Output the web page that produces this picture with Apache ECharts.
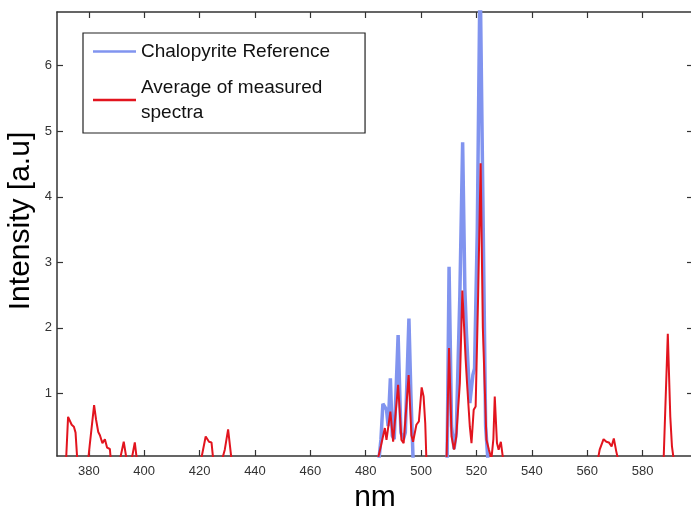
<!DOCTYPE html>
<html>
<head>
<meta charset="utf-8">
<script src="https://cdn.jsdelivr.net/npm/echarts@6/dist/echarts.min.js"></script>
<style>html,body{margin:0;padding:0;background:#fff;}#c{width:691px;height:509px;}</style>
</head>
<body>
<div id="c"></div>
<script>
// Average of measured spectra (red); null = gap between emission groups
var redNm = [371.8,372.5,373.8,374.6,375.2,375.8,null,379.8,380.3,381.9,382.6,383.4,384,384.9,385.8,386.6,387.6,387.9,null,
  391.3,392.6,393.6,null,395.5,396.6,397.3,null,420.6,422.2,423.4,424.3,424.9,null,428.2,429.1,430.3,431.5,null,
  484.4,485.5,486.9,487.5,488.9,489.9,490.5,491.7,492.9,493.7,494.1,495.5,496.5,497.1,498.3,499.2,500.2,500.9,501.5,501.9,null,
  509.2,510.1,511,511.9,512.7,514,514.9,516.1,516.6,517.6,518.2,519,519.7,520.6,521.5,522.3,523.6,524.5,525.4,
  526.1,526.6,527.4,528,528.8,529.6,null,563.9,564.5,565.9,566.9,567.8,568.8,569.6,570.5,571.1,null,587.6,589.1,590,590.6,591.2];
var redVal = [0,0.64,0.52,0.49,0.40,0,null,0,0.2,0.82,0.6,0.41,0.36,0.24,0.30,0.17,0.15,0,null,
  0,0.26,0,null,0,0.25,0,null,0,0.34,0.26,0.25,0,null,0,0.14,0.45,0,null,
  0,0.2,0.47,0.29,0.72,0.26,0.24,1.13,0.29,0.24,0.26,1.28,0.36,0.26,0.52,0.57,1.09,0.95,0.54,0,null,
  0,1.69,0.34,0.14,0.34,1.16,2.57,1.51,1.15,0.49,0.24,0.75,0.8,2.5,4.51,2.0,0.29,0.14,0,
  0.3,0.95,0.24,0.14,0.26,0,null,0,0.14,0.30,0.26,0.25,0.19,0.31,0.11,0,null,0,1.91,0.64,0.19,0];
// Chalopyrite reference (blue)
var blueNm = [484.8,485.5,486.2,486.9,487.5,488.1,488.9,489.6,490.3,491.7,492.7,493.6,494.3,495.6,496.3,497.1,null,
  509.4,510.1,511,511.9,512.7,514,515,515.8,516.4,517.6,518.7,519.3,520.3,521.3,522.3,523.3,524.1];
var blueVal = [0,0.3,0.84,0.84,0.75,0.5,1.23,0.35,0.3,1.89,0.4,0.3,0.4,2.14,1.0,0,null,
  0,2.93,0.5,0.15,0.4,2.5,4.83,2.6,1.9,0.85,1.28,1.38,3.5,7.5,4,0.5,0];
var xTicks = [380,400,420,440,460,480,500,520,540,560,580];
var yTicks = [1,2,3,4,5,6];
var yTitle = 'Intensity [a.u]';
var xTitle = 'nm';

function pairs(xs, ys){ return xs.map(function(x,i){ return x === null ? '-' : [x, ys[i]]; }); }

var chart = echarts.init(document.getElementById('c'), null, {renderer:'canvas'});
var ff = '"Liberation Sans", Arial, Helvetica, sans-serif';
var axLine = {show:true, lineStyle:{color:'#333', width:1.5}};
var tick = {show:true, inside:true, length:6, lineStyle:{color:'#333', width:1.2}};
var xMin = 368.5, xMax = 598.2, yMin = 0.043, yMax = 6.82;
chart.setOption({
  backgroundColor:'#fff',
  animation:false,
  textStyle:{fontFamily:ff},
  grid:{left:57, top:12, right:-2, bottom:53, containLabel:false, outerBoundsMode:'none'},
  graphic:[{
    type:'text', x:21, y:221, rotation:Math.PI/2,
    style:{text:yTitle, fontSize:30, fontFamily:ff, fill:'#000', align:'center', verticalAlign:'middle'}
  }],
  legend:{
    show:true, orient:'vertical', left:83, top:33,
    padding:[6,35,8,10], itemGap:11,
    backgroundColor:'#fff', borderColor:'#222', borderWidth:1.2,
    icon:'rect', itemWidth:43, itemHeight:2.5, itemStyle:{borderWidth:0},
    textStyle:{fontFamily:ff, fontSize:19, color:'#111', lineHeight:25},
    data:['Chalopyrite Reference','Average of measured\nspectra']
  },
  xAxis:[{
    type:'value', position:'bottom', min:xMin, max:xMax,
    axisLine:axLine, axisTick:Object.assign({customValues:xTicks}, tick),
    splitLine:{show:false},
    axisLabel:{customValues:xTicks, fontSize:13, color:'#333', margin:9, fontFamily:ff},
    name:xTitle, nameLocation:'middle', nameGap:22,
    nameTextStyle:{fontSize:30, color:'#000', fontFamily:ff}
  },{
    type:'value', position:'top', min:xMin, max:xMax,
    axisLine:axLine, axisTick:Object.assign({customValues:xTicks}, tick),
    splitLine:{show:false}, axisLabel:{show:false}
  }],
  yAxis:[{
    type:'value', position:'left', min:yMin, max:yMax,
    axisLine:axLine, axisTick:Object.assign({customValues:yTicks}, tick),
    splitLine:{show:false},
    axisLabel:{customValues:yTicks, fontSize:13, color:'#333', margin:5, fontFamily:ff}
  },{
    type:'value', position:'right', min:yMin, max:yMax,
    axisLine:axLine, axisTick:Object.assign({customValues:yTicks}, tick),
    splitLine:{show:false}, axisLabel:{show:false}
  }],
  series:[{
    name:'Chalopyrite Reference', type:'line', xAxisIndex:0, yAxisIndex:0,
    data:pairs(blueNm, blueVal), showSymbol:false, symbol:'none', clip:true, connectNulls:false,
    lineStyle:{color:'#8194ef', width:3.5}, itemStyle:{color:'#8194ef'}, z:2
  },{
    name:'Average of measured\nspectra', type:'line', xAxisIndex:0, yAxisIndex:0,
    data:pairs(redNm, redVal), showSymbol:false, symbol:'none', clip:true, connectNulls:false,
    lineStyle:{color:'#e2141e', width:2}, itemStyle:{color:'#e2141e'}, z:3
  }]
});
</script>
</body>
</html>
